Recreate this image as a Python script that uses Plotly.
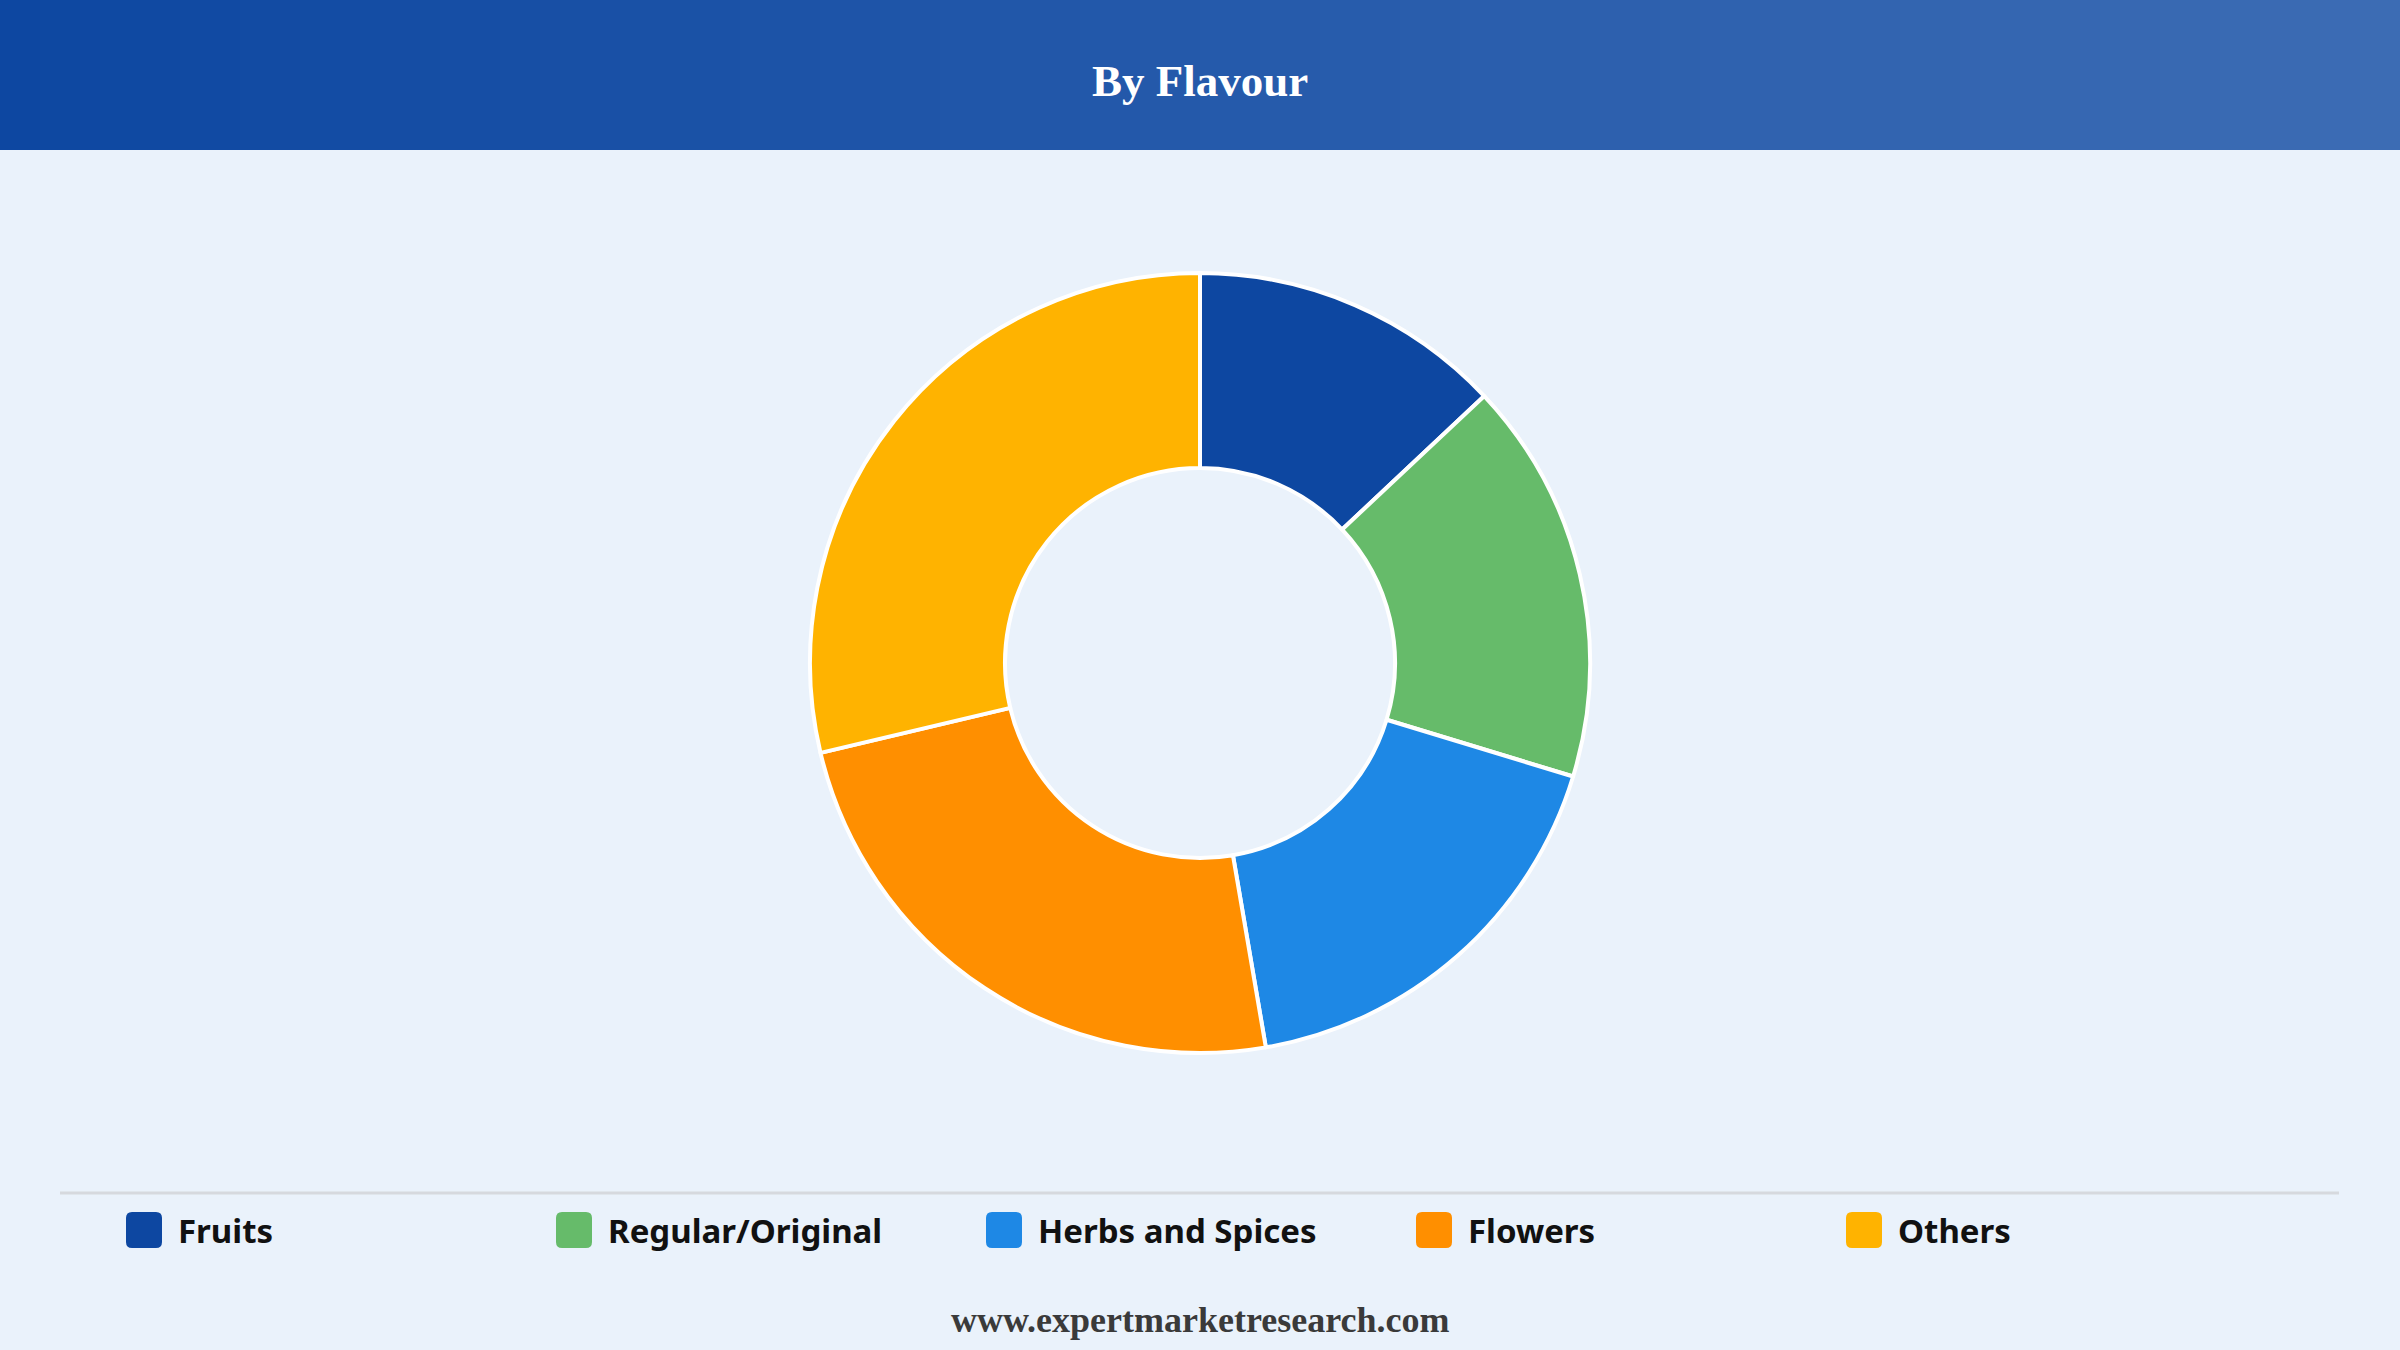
import plotly.graph_objects as go

# data
labels = ["Fruits", "Regular/Original", "Herbs and Spices", "Flowers", "Others"]
values = [13.0, 16.7, 17.6, 24.0, 28.7]
colors = ["#0D47A1", "#66BB6A", "#1E88E5", "#FF8F00", "#FFB300"]

W, H = 2400, 1350
BG = "#EAF2FB"


def px_x(x):
    return x / W


def px_y(y):
    return 1 - y / H


def rounded_rect(x0, y0, x1, y1, r):
    # pixel coords (top-left origin) -> svg path in paper coords
    X = lambda v: px_x(v)
    Y = lambda v: px_y(v)
    return (f"M {X(x0 + r)},{Y(y0)} L {X(x1 - r)},{Y(y0)} "
            f"Q {X(x1)},{Y(y0)} {X(x1)},{Y(y0 + r)} L {X(x1)},{Y(y1 - r)} "
            f"Q {X(x1)},{Y(y1)} {X(x1 - r)},{Y(y1)} L {X(x0 + r)},{Y(y1)} "
            f"Q {X(x0)},{Y(y1)} {X(x0)},{Y(y1 - r)} L {X(x0)},{Y(y0 + r)} "
            f"Q {X(x0)},{Y(y0)} {X(x0 + r)},{Y(y0)} Z")


fig = go.Figure()
fig.add_trace(go.Pie(
    labels=labels, values=values, hole=0.5, sort=False,
    direction="clockwise", rotation=0,
    marker=dict(colors=colors, line=dict(color="white", width=4)),
    textinfo="none", hoverinfo="label+percent", showlegend=False,
    domain=dict(x=[px_x(810), px_x(1590)], y=[px_y(1053), px_y(273)]),
))

shapes = []
# header gradient made of thin strips
c0 = (13, 71, 161)
c1 = (60, 108, 180)
n = 120
for i in range(n):
    t = i / (n - 1)
    c = tuple(round(a + (b - a) * t) for a, b in zip(c0, c1))
    shapes.append(dict(type="rect", xref="paper", yref="paper",
                       x0=px_x(i * W / n), x1=px_x((i + 1) * W / n + 1),
                       y0=px_y(150), y1=1, line=dict(width=0),
                       fillcolor="rgb(%d,%d,%d)" % c, layer="below"))

# separator line above legend
shapes.append(dict(type="line", xref="paper", yref="paper",
                   x0=px_x(60), x1=px_x(2339), y0=px_y(1193), y1=px_y(1193),
                   line=dict(color="#D6D9DE", width=3)))

annotations = [
    dict(text="<b>By Flavour</b>", x=0.5, y=px_y(81), xref="paper", yref="paper",
         xanchor="center", yanchor="middle", showarrow=False,
         font=dict(family="Liberation Serif", size=45, color="white")),
    dict(text="<b>www.expertmarketresearch.com</b>", x=0.5, y=px_y(1320),
         xref="paper", yref="paper", xanchor="center", yanchor="middle", showarrow=False,
         font=dict(family="Liberation Serif", size=36, color="#3A3A3A")),
]

# custom legend
for i, (lab, col) in enumerate(zip(labels, colors)):
    x = 126 + i * 430
    shapes.append(dict(type="path", xref="paper", yref="paper",
                       path=rounded_rect(x, 1212, x + 36, 1248, 6),
                       fillcolor=col, line=dict(width=0)))
    annotations.append(dict(text="<b>" + lab + "</b>", x=px_x(x + 50), y=px_y(1230),
                            xref="paper", yref="paper", xanchor="left", yanchor="middle",
                            showarrow=False,
                            font=dict(family="Noto Sans", size=33, color="#111111")))

fig.update_layout(
    width=W, height=H,
    margin=dict(l=0, r=0, t=0, b=0),
    paper_bgcolor=BG, plot_bgcolor=BG,
    shapes=shapes, annotations=annotations,
)

fig.write_html("out.html", config={"displayModeBar": False},
               post_script="document.body.style.margin='0';document.body.style.background='%s';" % BG)
